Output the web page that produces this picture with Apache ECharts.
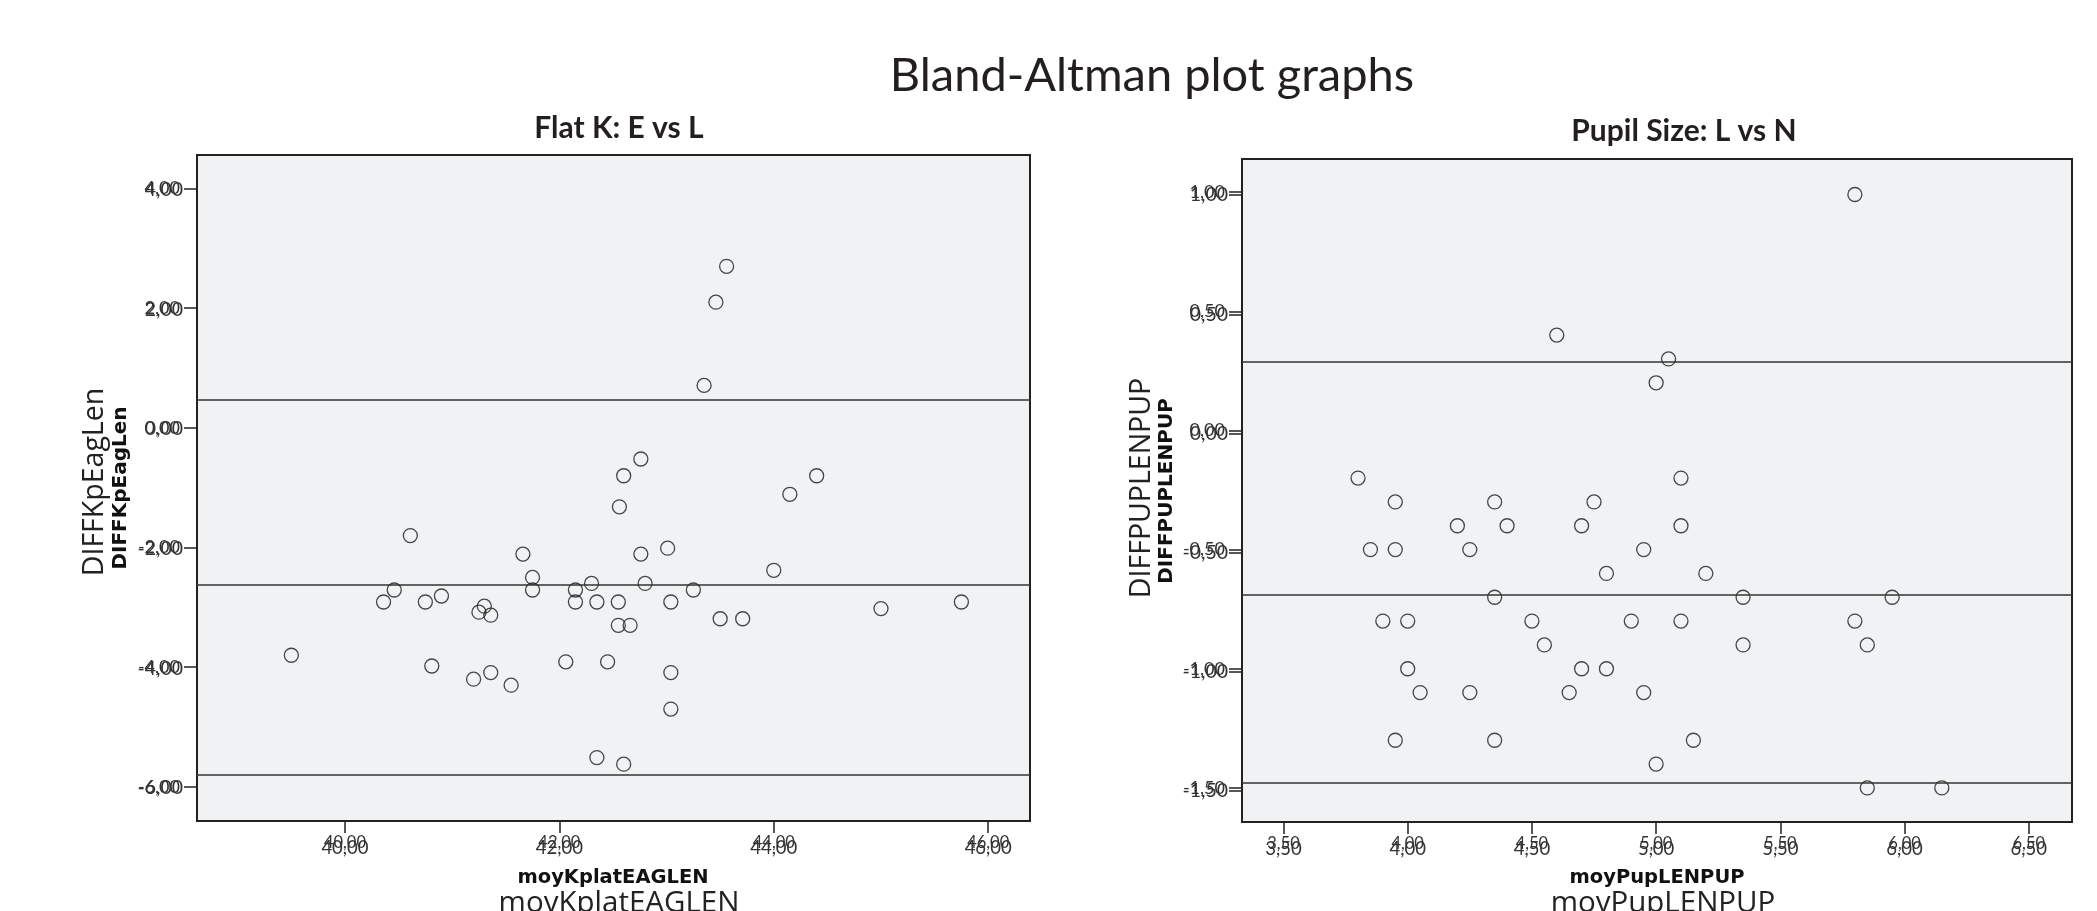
<!DOCTYPE html>
<html>
<head>
<meta charset="utf-8">
<script src="https://cdn.jsdelivr.net/npm/echarts@6/dist/echarts.min.js"></script>
<style>
html,body{margin:0;padding:0;background:#fff;}
#chart{width:2097px;height:911px;}
</style>
</head>
<body>
<div id="chart"></div>
<script>
// ---- Data ----
const flatKMean = [43.56,43.46,43.35,42.76,42.60,44.40,44.15,42.56,40.61,43.01,42.76,41.66,44.00,41.75,42.30,42.80,40.46,41.75,42.15,43.25,40.90,40.36,40.75,42.15,42.35,42.55,43.04,45.75,41.30,41.25,41.36,45.00,43.50,43.71,42.55,42.66,39.50,40.81,42.06,42.45,43.04,41.36,41.20,41.55,43.04,42.35,42.60];
const flatKDiff = [2.70,2.10,0.71,-0.52,-0.80,-0.80,-1.11,-1.32,-1.80,-2.01,-2.11,-2.11,-2.38,-2.50,-2.60,-2.60,-2.71,-2.71,-2.71,-2.71,-2.81,-2.91,-2.91,-2.91,-2.91,-2.91,-2.91,-2.91,-2.98,-3.08,-3.13,-3.02,-3.19,-3.19,-3.30,-3.30,-3.80,-3.98,-3.91,-3.91,-4.09,-4.09,-4.20,-4.30,-4.70,-5.51,-5.62];
const flatKLimits = [0.47, -2.63, -5.79];

const pupilMean = [5.80,4.60,5.05,5.00,3.80,5.10,3.95,4.35,4.75,4.20,4.40,4.70,5.10,3.85,3.95,4.25,4.95,4.80,5.20,4.35,5.35,5.95,3.90,4.00,4.50,4.90,5.10,5.80,4.55,5.35,5.85,4.00,4.70,4.80,4.05,4.25,4.65,4.95,3.95,4.35,5.15,5.00,5.85,6.15];
const pupilDiff = [0.99,0.40,0.30,0.20,-0.20,-0.20,-0.30,-0.30,-0.30,-0.40,-0.40,-0.40,-0.40,-0.50,-0.50,-0.50,-0.50,-0.60,-0.60,-0.70,-0.70,-0.70,-0.80,-0.80,-0.80,-0.80,-0.80,-0.80,-0.90,-0.90,-0.90,-1.00,-1.00,-1.00,-1.10,-1.10,-1.10,-1.10,-1.30,-1.30,-1.30,-1.40,-1.50,-1.50];
const pupilLimits = [0.29, -0.69, -1.48];

const flatKXTicks = [40, 42, 44, 46];
const flatKYTicks = [-6, -4, -2, 0, 2, 4];
const pupilXTicks = [3.5, 4.0, 4.5, 5.0, 5.5, 6.0, 6.5];
const pupilYTicks = [-1.5, -1.0, -0.5, 0, 0.5, 1.0];

// ---- Build chart ----
const fmt = v => v.toFixed(2).replace('.', ',');
const dark = '#222';
const tickFont = 'Lato';

function pairs(xs, ys){ return xs.map((x,i)=>[x, ys[i]]); }

function xAxes(gridIndex, min, max, ticks){
  return [
    {type:'value', gridIndex, min, max, position:'bottom',
     splitLine:{show:false},
     axisLine:{show:true, onZero:false, lineStyle:{color:dark, width:2}},
     axisTick:{show:true, inside:false, length:12, customValues:ticks, lineStyle:{color:dark, width:1.5}},
     axisLabel:{customValues:ticks, formatter:fmt, fontSize:16.5, fontFamily:tickFont, color:'#333', margin:13}},
    {type:'value', gridIndex, min, max, position:'bottom',
     splitLine:{show:false}, axisLine:{show:false, onZero:false}, axisTick:{show:false},
     axisLabel:{customValues:ticks, formatter:fmt, fontSize:18.5, fontFamily:tickFont, color:'#333', margin:18}}
  ];
}
function yAxes(gridIndex, min, max, ticks, shift, shiftTicks){
  return [
    {type:'value', gridIndex, min, max, position:'left',
     splitLine:{show:false},
     axisLine:{show:true, onZero:false, lineStyle:{color:dark, width:2}},
     axisTick:{show:true, length:13, customValues:ticks, lineStyle:{color:dark, width:1.5}},
     axisLabel:{customValues:ticks, formatter:fmt, fontSize:18, fontFamily:tickFont, color:'#333', margin:17}},
    {type:'value', gridIndex, min:min+shift, max:max+shift, position:'left',
     splitLine:{show:false}, axisLine:{show:false, onZero:false},
     axisTick:{show:shiftTicks, length:13, customValues:ticks, lineStyle:{color:dark, width:1.5}},
     axisLabel:{customValues:ticks, formatter:fmt, fontSize:19.5, fontFamily:tickFont, color:'#333', margin:14}}
  ];
}

function scatter(name, xi, yi, data, limits){
  return {
    name, type:'scatter', xAxisIndex:xi, yAxisIndex:yi, data,
    symbol:'circle', symbolSize:14,
    itemStyle:{color:'rgba(0,0,0,0)', borderColor:'#1a1a1a', borderWidth:1.3},
    markLine:{
      silent:true, symbol:['none','none'], label:{show:false},
      lineStyle:{color:'#333', width:1.5, type:'solid'},
      data: limits.map(v => ({yAxis:v}))
    },
    z:3
  };
}

const option = {
  animation:false,
  backgroundColor:'#ffffff',
  title:[
    {text:'Bland-Altman plot graphs', left:1147, top:47, textAlign:'center',
     textStyle:{fontFamily:'Lato', fontWeight:'normal', fontSize:47, color:'#231f20'}},
    {text:'Flat K: E vs L', left:614, top:108, textAlign:'center',
     textStyle:{fontFamily:'Lato', fontWeight:'bold', fontSize:30, color:'#231f20'}},
    {text:'Pupil Size: L vs N', left:1679, top:111, textAlign:'center',
     textStyle:{fontFamily:'Lato', fontWeight:'bold', fontSize:30, color:'#231f20'}}
  ],
  grid:[
    {left:197, right:2097-1030, top:155, bottom:911-821, show:true,
     backgroundColor:'#f1f2f4', borderColor:dark, borderWidth:2},
    {left:1242, right:2097-2072, top:159, bottom:911-822, show:true,
     backgroundColor:'#f1f2f4', borderColor:dark, borderWidth:2}
  ],
  xAxis:[
    ...xAxes(0, 38.62, 46.39, flatKXTicks),
    ...xAxes(1, 3.333, 6.674, pupilXTicks)
  ],
  yAxis:[
    ...yAxes(0, -6.57, 4.56, flatKYTicks, 0.02, false),
    ...yAxes(1, -1.643, 1.139, pupilYTicks, 0.0126, true)
  ],
  series:[
    scatter('Flat K', 0, 0, pairs(flatKMean, flatKDiff), flatKLimits),
    scatter('Pupil Size', 2, 2, pairs(pupilMean, pupilDiff), pupilLimits)
  ],
  graphic:[
    {type:'text', x:95, y:482, rotation:Math.PI/2,
     style:{text:'DIFFKpEagLen', fontFamily:'Open Sans', fontSize:28.5, fill:dark, align:'center', verticalAlign:'middle'}},
    {type:'text', x:121, y:488, rotation:Math.PI/2,
     style:{text:'DIFFKpEagLen', fontFamily:'DejaVu Sans', fontWeight:'bold', fontSize:20, fill:'#111', align:'center', verticalAlign:'middle'}},
    {type:'text', x:1142, y:488, rotation:Math.PI/2,
     style:{text:'DIFFPUPLENPUP', fontFamily:'Open Sans', fontSize:28.5, fill:dark, align:'center', verticalAlign:'middle'}},
    {type:'text', x:1167, y:491, rotation:Math.PI/2,
     style:{text:'DIFFPUPLENPUP', fontFamily:'DejaVu Sans', fontWeight:'bold', fontSize:20, fill:'#111', align:'center', verticalAlign:'middle'}},
    {type:'text', x:613, y:878,
     style:{text:'moyKplatEAGLEN', fontFamily:'DejaVu Sans', fontWeight:'bold', fontSize:19.5, fill:'#111', align:'center', verticalAlign:'middle'}},
    {type:'text', x:619, y:904,
     style:{text:'moyKplatEAGLEN', fontFamily:'Open Sans', fontSize:29.5, fill:dark, align:'center', verticalAlign:'middle'}},
    {type:'text', x:1657, y:878,
     style:{text:'moyPupLENPUP', fontFamily:'DejaVu Sans', fontWeight:'bold', fontSize:19.5, fill:'#111', align:'center', verticalAlign:'middle'}},
    {type:'text', x:1663, y:904,
     style:{text:'moyPupLENPUP', fontFamily:'Open Sans', fontSize:29.5, fill:dark, align:'center', verticalAlign:'middle'}}
  ]
};

const chart = echarts.init(document.getElementById('chart'), null, {renderer:'canvas'});
chart.setOption(option);
</script>
</body>
</html>
